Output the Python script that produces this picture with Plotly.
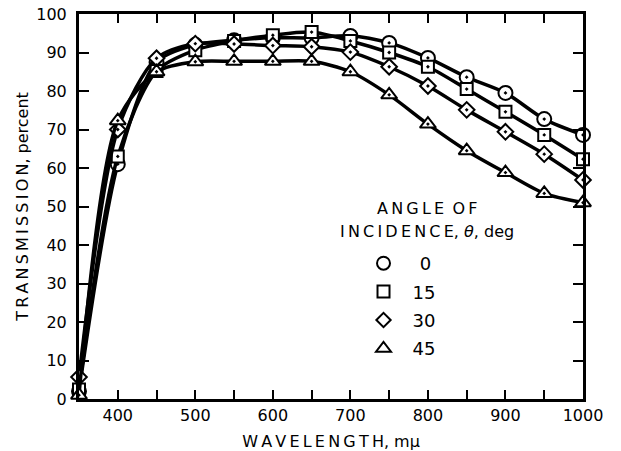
import plotly.graph_objects as go

wavelength = [350, 400, 450, 500, 550, 600, 650, 700, 750, 800, 850, 900, 950, 1000]
angle_labels = ["\u2002\u2009\u20090", "\u200215", "\u200230", "\u200245"]
t0 = [2, 61, 87.5, 92, 93.2, 93.8, 93.8, 94.3, 92.5, 88.6, 83.6, 79.5, 72.7, 68.6]
t15 = [2.5, 63, 85.2, 90.6, 93, 94.5, 95.3, 93, 90, 86.3, 80.5, 74.6, 68.6, 62.3]
t30 = [5.7, 70, 88.5, 92.3, 92.2, 91.8, 91.5, 90.1, 86.3, 81.3, 75.1, 69.4, 63.6, 56.9]
t45 = [1, 72.3, 85, 87.6, 87.7, 87.7, 87.7, 85, 79, 71.4, 64.5, 58.8, 53.4, 51]
series = [t0, t15, t30, t45]
symbols = ["circle", "square", "diamond", "triangle-up"]
sizes = [14, 12, 12, 14]
legend_sizes = [13, 12, 11, 13]

x_tickvals = list(range(400, 1001, 50))
x_ticktext = [str(v) if v % 100 == 0 else "" for v in x_tickvals]
y_tickvals = list(range(0, 101, 10))

def spaced(s):
    # add thin spaces between capital letters to mimic the wide tracking
    out = ""
    for i, ch in enumerate(s):
        out += ch
        if i + 1 < len(s) and ch.isupper() and s[i + 1].isupper():
            out += "\u2009"
    return out

fig = go.Figure()
for ys, sym, sz in zip(series, symbols, sizes):
    fig.add_trace(go.Scatter(
        x=wavelength, y=ys, mode="lines+markers",
        line=dict(color="black", width=3.5, shape="spline", smoothing=0.8),
        marker=dict(symbol=sym + "-dot", size=sz, color="white",
                    line=dict(color="black", width=2)),
        showlegend=False, cliponaxis=False, hoverinfo="skip"))
for lab, sym, sz in zip(angle_labels, symbols, legend_sizes):
    fig.add_trace(go.Scatter(
        x=[None], y=[None], mode="markers", name=lab,
        marker=dict(symbol=sym + "-open", size=sz, color="black",
                    line=dict(color="black", width=2)),
        showlegend=True, legendgroup=lab))

font = "DejaVu Sans, Verdana, sans-serif"
fig.update_layout(
    width=621, height=451, autosize=False,
    margin=dict(l=79, r=38, t=14, b=52, autoexpand=False),
    paper_bgcolor="white", plot_bgcolor="white",
    font=dict(family=font, size=16, color="black"),
    legend=dict(x=0.5645, y=0.40, xanchor="left", yanchor="top",
                font=dict(size=18), tracegroupgap=2, bgcolor="rgba(0,0,0,0)",
                itemsizing="trace"),
    xaxis=dict(range=[350, 1000], tickvals=x_tickvals, ticktext=x_ticktext,
               ticks="inside", ticklen=9, tickwidth=2, tickcolor="black",
               showline=True, linewidth=3, linecolor="black", mirror="ticks",
               showgrid=False, zeroline=False, automargin=False,
               tickfont=dict(size=16),
               title=dict(text=spaced("WAVELENGTH") + ", m\u03bc", font=dict(size=16), standoff=13)),
    yaxis=dict(range=[0, 100], tickvals=y_tickvals,
               ticks="inside", ticklen=10, tickwidth=2, tickcolor="black",
               showline=True, linewidth=3, linecolor="black", mirror="ticks",
               showgrid=False, zeroline=False, ticklabelstandoff=6, automargin=False,
               tickfont=dict(size=16),
               title=dict(text=spaced("TRANSMISSION") + ", percent", font=dict(size=16), standoff=4)),
    annotations=[
        dict(xref="paper", yref="paper", x=0.69, y=0.496, xanchor="center", yanchor="middle",
             text=spaced("ANGLE") + "\u2009 " + spaced("OF"),
             showarrow=False, font=dict(size=16)),
        dict(xref="paper", yref="paper", x=0.69, y=0.434, xanchor="center", yanchor="middle",
             text=spaced("INCIDENCE") + ", <i>\u03b8</i>, deg",
             showarrow=False, font=dict(size=16)),
    ],
)
fig.write_html("out.html", config={"displayModeBar": False},
               post_script="document.body.style.margin='0';document.body.style.overflow='hidden';")
